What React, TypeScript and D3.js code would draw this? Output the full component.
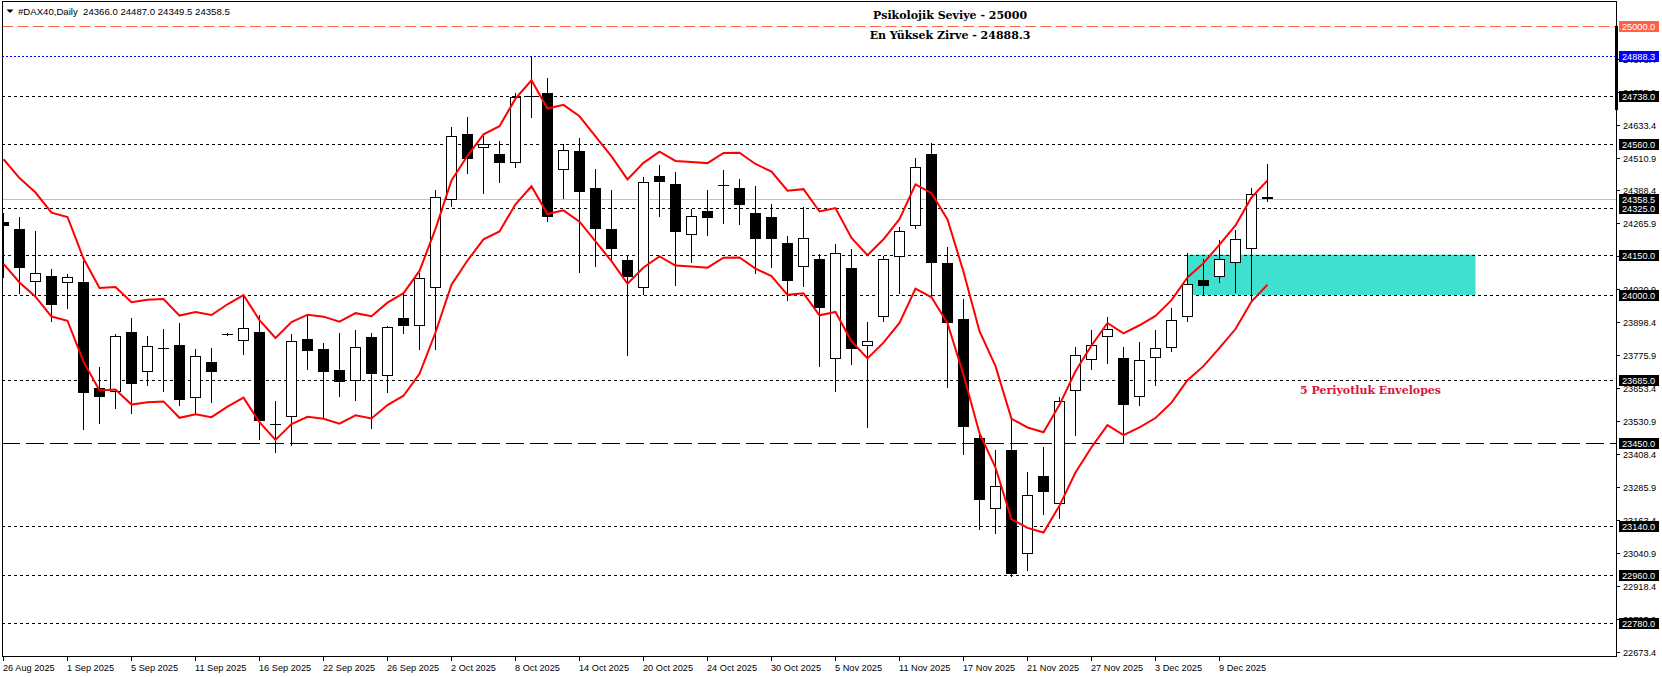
import React from "react";
import * as d3 from "d3";

const W = 1662;
const H = 677;
const PLOT = { left: 2, top: 2, right: 1616, bottom: 656 };

// Daily OHLC, DAX40 CFD (26 Aug 2025 .. 12 Dec 2025)
const opens = [
  24272.4, 24245.3, 24047.2, 24070.6, 24043.5, 24048.3, 23653.3, 23640.7, 23862.5, 23712.7,
  23802, 23814, 23616, 23751, 23856, 23830, 23862.5, 23520, 23546.6, 23836.5,
  23799.3, 23720, 23680, 23845, 23700, 23915.6, 23884.8, 24025, 24351.9, 24598.3,
  24545.1, 24524, 24489.4, 24738, 24749.5, 24463.4, 24534, 24396.5, 24244.1, 24129,
  24025, 24442.2, 24412.5, 24221.8, 24312.1, 24409.5, 24396.5, 24304.7, 24288.7, 24192.1,
  24102.9, 24132.7, 23761, 24100.3, 23809.4, 23919.4, 24142.3, 24257.5, 24524, 24118.9,
  23910.8, 23469.7, 23203.7, 23424, 23036.4, 23327.4, 23222.2, 23642.2, 23757.3, 23842.8,
  23764.8, 23619.8, 23764.8, 23802, 23917.1, 24054.6, 24068, 24117.8, 24169.8, 24366.0,
];
const highs = [
  24305.8, 24288.7, 24239, 24096.6, 24077, 24126.3, 23731.3, 23854, 23914.5, 23847.6,
  23873.7, 23896, 23799, 23803.5, 23860, 23997, 23925.7, 23606, 23855, 23923,
  23821.6, 23860, 23870, 23858, 23886, 24006.3, 24080.6, 24390, 24623.2, 24660.3,
  24590.8, 24572.3, 24749.5, 24888.3, 24805.3, 24561, 24582.3, 24468.2, 24390.2, 24148.6,
  24439.6, 24483, 24456, 24319.6, 24390.2, 24464.5, 24431, 24405, 24338.2, 24219.2,
  24325.9, 24152.4, 24189.5, 24171, 23899.7, 24145, 24253.8, 24509, 24563.7, 24177.3,
  23984, 23486, 23424, 23545.5, 23343.4, 23434, 23622, 23808, 23870, 23919.4,
  23806.8, 23825.3, 23868.8, 23951.7, 24156, 24132.7, 24203.3, 24241.5, 24396.5, 24487.0,
];
const lows = [
  24068, 24008.5, 24000, 23903.4, 23952.8, 23500.9, 23525.5, 23581.2, 23562.6, 23665.6,
  23644.4, 23591, 23560, 23603.5, 23851, 23782, 23463.8, 23417, 23442.6, 23726,
  23545.5, 23625, 23610, 23505, 23640, 23860, 23800, 23800, 24332, 24454.5,
  24380.1, 24421, 24476, 24662.6, 24276, 24361.6, 24086.6, 24108.9, 24130, 23777,
  24003.7, 24293.6, 24037, 24123.7, 24223, 24268.7, 24263.8, 24082.9, 24105.2, 23981.4,
  24033.4, 23736.2, 23644.4, 23743.6, 23510.6, 23904.5, 24006.3, 24250, 23993.7, 23659.2,
  23408, 23129.3, 23116.7, 22956, 22978.1, 23185, 23172, 23479.8, 23725, 23746.2,
  23454.9, 23592.4, 23666.7, 23793, 23904.5, 24004.8, 24047.2, 24012.3, 23981.4, 24349.5,
];
const closes = [
  24257.5, 24101.4, 24080.6, 23964, 24065.8, 23637, 23619.8, 23846.5, 23670.4, 23809.4,
  23801, 23611, 23772, 23715, 23854, 23876, 23533, 23519, 23828, 23791,
  23715, 23675, 23805, 23708, 23882, 23886, 24062, 24363, 24589.7, 24504.3,
  24560, 24491.6, 24736.9, 24736, 24288.7, 24537.7, 24383.9, 24246.4, 24172, 24066.9,
  24418.8, 24421, 24235.2, 24292.4, 24287.2, 24408.5, 24335.6, 24209.2, 24209.2, 24053.1,
  24210.7, 23952.8, 24155, 23800.5, 23828, 24132.7, 24236.7, 24474.5, 24120, 23894.8,
  23508.4, 23238, 23290.2, 22965, 23256.8, 23269, 23606, 23776, 23813, 23872.5,
  23592.4, 23757.3, 23802, 23906, 24042, 24032.3, 24132.7, 24207, 24375.3, 24358.5,
];

const dateTickIndex = [0, 4, 8, 12, 16, 20, 24, 28, 32, 36, 40, 44, 48, 52, 56, 60, 64, 68, 72, 76];
const dateTickLabels = [
  "26 Aug 2025", "1 Sep 2025", "5 Sep 2025", "11 Sep 2025", "16 Sep 2025", "22 Sep 2025",
  "26 Sep 2025", "2 Oct 2025", "8 Oct 2025", "14 Oct 2025", "20 Oct 2025", "24 Oct 2025",
  "30 Oct 2025", "5 Nov 2025", "11 Nov 2025", "17 Nov 2025", "21 Nov 2025", "27 Nov 2025",
  "3 Dec 2025", "9 Dec 2025",
];

const priceTicks = [
  22673.4, 22795.9, 22918.4, 23040.9, 23163.4, 23285.9, 23408.4, 23530.9, 23653.4, 23775.9,
  23898.4, 24020.9, 24143.4, 24265.9, 24388.4, 24510.9, 24633.4, 24755.9, 24878.4,
];

const dottedLevels = [24738, 24560, 24325, 24150, 24000, 23685, 23140, 22960, 22780];
const dashedLevel = 23450;
const psychLevel = 25000;
const athLevel = 24888.3;
const bidPrice = 24358.5;
const axisBar = [24687, 25000];

const zoneTop = 24150;
const zoneBottom = 24000;
const zoneStartBar = 74;
const zoneEndBar = 92;

const emaSeed = 24310;
const envPeriod = 5;
const envDeviationPct = 0.8;

const headerText = "#DAX40,Daily  24366.0 24487.0 24349.5 24358.5";
const title1 = "Psikolojik Seviye - 25000";
const title2 = "En Yüksek Zirve - 24888.3";
const envLabel = "5 Periyotluk Envelopes";

const AXIS_FONT = "'Liberation Sans', Arial, sans-serif";
const SERIF_FONT = "'DejaVu Serif', 'Liberation Serif', serif";

export default function App() {
  const x = d3.scaleLinear().domain([0, 100]).range([3.5, 1603.5]);
  const y = d3.scaleLinear().domain([22658.5, 25088.8]).range([656, 2]);

  // Envelope: EMA(5) of close, +/- 0.8%
  const alpha = 2 / (envPeriod + 1);
  const ema: number[] = [];
  closes.forEach((c, i) => {
    ema.push(i === 0 ? emaSeed : ema[i - 1] + alpha * (c - ema[i - 1]));
  });
  const upper = ema.map((v) => v * (1 + envDeviationPct / 100));
  const lower = ema.map((v) => v * (1 - envDeviationPct / 100));
  const line = d3
    .line<number>()
    .x((_, i) => x(i))
    .y((v) => y(v));

  const py = (p: number) => Math.round(y(p)) + 0.5;

  const boxLabel = (p: number, bg: string, fg: string, key: string) => {
    const yy = Math.round(y(p));
    return (
      <g key={key}>
        <rect x={1619} y={yy - 5} width={40} height={11} fill={bg} />
        <text x={1622} y={yy + 4} fontSize={9.2} fill={fg} fontFamily={AXIS_FONT}>
          {p.toFixed(1)}
        </text>
      </g>
    );
  };

  return (
    <svg
      width={W}
      height={H}
      style={{ position: "fixed", left: 0, top: 0, background: "#fff" }}
    >
      <defs>
        <clipPath id="plotClip">
          <rect x={PLOT.left + 1} y={PLOT.top} width={PLOT.right - PLOT.left - 1} height={PLOT.bottom - PLOT.top} />
        </clipPath>
      </defs>
      <rect x={0} y={0} width={W} height={H} fill="#fff" />

      <g clipPath="url(#plotClip)">
        {/* support zone */}
        <rect
          x={x(zoneStartBar)}
          y={y(zoneTop)}
          width={x(zoneEndBar) - x(zoneStartBar)}
          height={y(zoneBottom) - y(zoneTop)}
          fill="#40E0D0"
        />

        {/* level lines */}
        {dottedLevels.map((p) => (
          <line key={p} x1={PLOT.left} x2={PLOT.right} y1={py(p)} y2={py(p)} stroke="#000" strokeWidth={1} strokeDasharray="3 3" />
        ))}
        <line x1={PLOT.left} x2={PLOT.right} y1={py(dashedLevel)} y2={py(dashedLevel)} stroke="#000" strokeWidth={1} strokeDasharray="18 6" />
        <line x1={PLOT.left} x2={PLOT.right} y1={py(psychLevel)} y2={py(psychLevel)} stroke="#FF6347" strokeWidth={1} strokeDasharray="11 4.5" />
        <line x1={PLOT.left} x2={PLOT.right} y1={py(athLevel)} y2={py(athLevel)} stroke="#0000FF" strokeWidth={1} strokeDasharray="2 2" />
        <line x1={PLOT.left} x2={PLOT.right} y1={py(bidPrice)} y2={py(bidPrice)} stroke="#C0C0C0" strokeWidth={1} />

        {/* candles */}
        <g shapeRendering="crispEdges">
          {closes.map((c, i) => {
            const o = opens[i];
            const cx = x(i);
            const bull = c > o;
            const top = Math.round(y(Math.max(o, c)));
            const bot = Math.round(y(Math.min(o, c)));
            const h = Math.max(1, bot - top);
            return (
              <g key={i}>
                <line x1={cx} x2={cx} y1={Math.round(y(highs[i]))} y2={Math.round(y(lows[i])) + 1} stroke="#000" strokeWidth={1} />
                {bull ? (
                  <rect x={cx - 5} y={top + 0.5} width={10} height={Math.max(1, h - 1)} fill="#fff" stroke="#000" strokeWidth={1} />
                ) : (
                  <rect x={cx - 5.5} y={top} width={11} height={h} fill="#000" />
                )}
              </g>
            );
          })}
        </g>

        {/* envelope */}
        <path d={line(upper) || ""} fill="none" stroke="#FF0000" strokeWidth={2} />
        <path d={line(lower) || ""} fill="none" stroke="#FF0000" strokeWidth={2} />

        {/* texts */}
        <text x={950} y={19} textAnchor="middle" fontFamily={SERIF_FONT} fontWeight="bold" fontSize={11} fill="#000">
          {title1}
        </text>
        <text x={950} y={38.5} textAnchor="middle" fontFamily={SERIF_FONT} fontWeight="bold" fontSize={11} fill="#000">
          {title2}
        </text>
        <text x={1300} y={394} fontFamily={SERIF_FONT} fontWeight="bold" fontSize={11} fill="#DC143C">
          {envLabel}
        </text>

        {/* header */}
        <path d="M6.5,9.5 L13.5,9.5 L10,13 Z" fill="#000" />
        <text x={18} y={14.5} fontFamily={AXIS_FONT} fontSize={9.6} fill="#000" style={{ whiteSpace: "pre" }}>
          {headerText}
        </text>
      </g>

      {/* frame */}
      <rect
        x={PLOT.left + 0.5}
        y={PLOT.top - 0.5}
        width={PLOT.right - PLOT.left}
        height={PLOT.bottom - PLOT.top + 1}
        fill="none"
        stroke="#000"
        strokeWidth={1}
        shapeRendering="crispEdges"
      />

      {/* right axis */}
      <g>
        {priceTicks.map((p) => {
          const yy = Math.round(y(p)) + 0.5;
          return (
            <g key={p}>
              <line x1={1616} x2={1620} y1={yy} y2={yy} stroke="#000" strokeWidth={1} />
              <text x={1623} y={yy + 3.5} fontSize={9.2} fontFamily={AXIS_FONT} fill="#000">
                {p.toFixed(1)}
              </text>
            </g>
          );
        })}
        <rect x={1615} y={y(axisBar[1])} width={3} height={y(axisBar[0]) - y(axisBar[1])} fill="#000" />
        {dottedLevels.map((p) => boxLabel(p, "#000", "#fff", "d" + p))}
        {boxLabel(dashedLevel, "#000", "#fff", "dash")}
        {boxLabel(bidPrice, "#000", "#fff", "bid")}
        {boxLabel(athLevel, "#0000FF", "#fff", "ath")}
        {boxLabel(psychLevel, "#FF6347", "#fff", "psy")}
      </g>

      {/* bottom axis */}
      <g>
        {dateTickIndex.map((idx, k) => (
          <g key={idx}>
            <line x1={x(idx)} x2={x(idx)} y1={657} y2={661} stroke="#000" strokeWidth={1} />
            <text x={x(idx) - 0.5} y={670.5} fontSize={9.2} fontFamily={AXIS_FONT} fill="#000">
              {dateTickLabels[k]}
            </text>
          </g>
        ))}
      </g>
    </svg>
  );
}
